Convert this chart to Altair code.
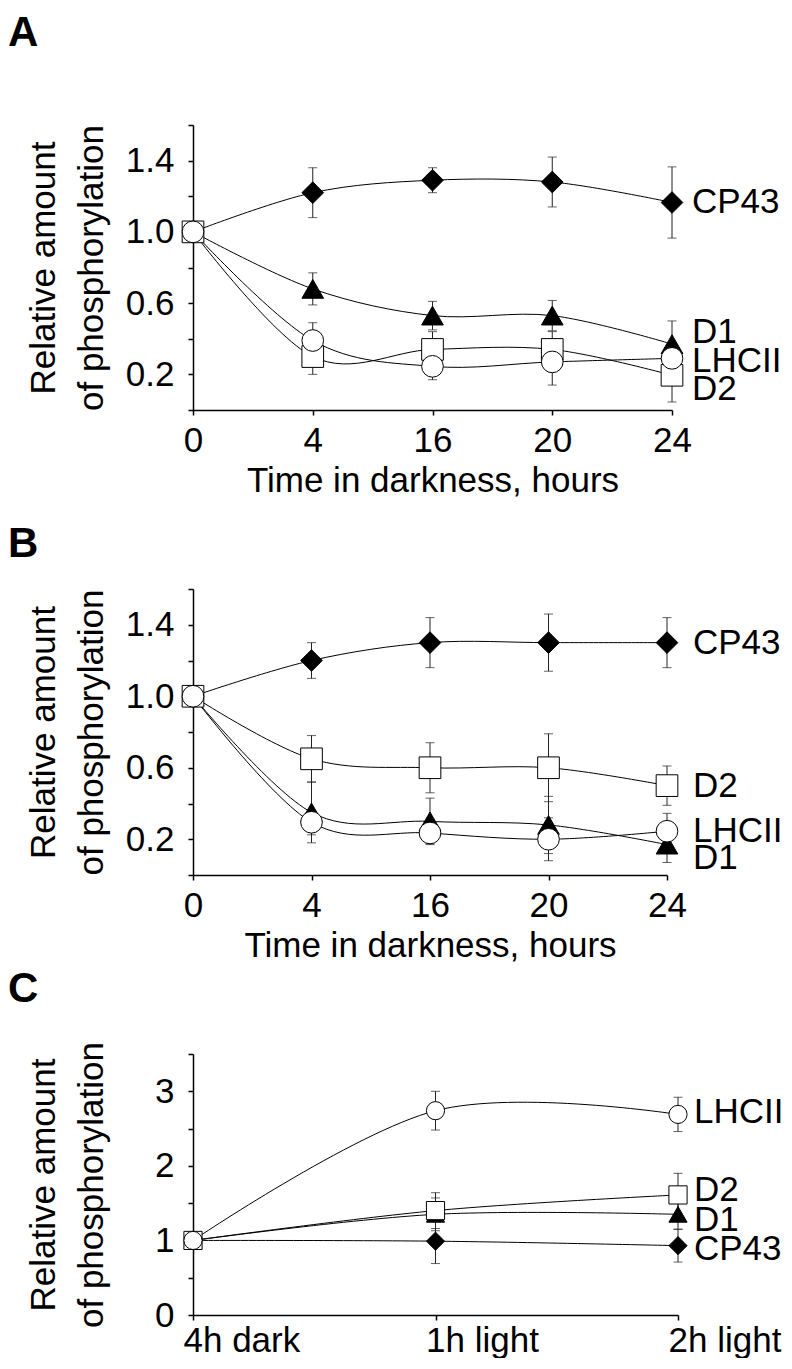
import altair as alt
import pandas as pd

SERIES = ["CP43", "D1", "D2", "LHCII"]
SHAPES = ["diamond", "triangle-up", "square", "circle"]
FILLS = ["black", "black", "white", "white"]
Y_TITLE = ["Relative amount", "of phosphorylation"]

# ---------------- Panel A ----------------
A_TIMES = ["0", "4", "16", "20", "24"]
A_CP43 = [1.0, 1.22, 1.29, 1.28, 1.165]
A_CP43_ERR = [0, 0.14, 0.07, 0.14, 0.20]
A_D1 = [1.0, 0.68, 0.53, 0.53, 0.37]
A_D1_ERR = [0, 0.09, 0.08, 0.085, 0.13]
A_D2 = [1.0, 0.30, 0.34, 0.34, 0.195]
A_D2_ERR = [0, 0.10, 0.10, 0.10, 0.15]
A_LHCII = [1.0, 0.39, 0.245, 0.27, 0.29]
A_LHCII_ERR = [0, 0.10, 0.075, 0.13, 0.05]
A_LABEL_Y = [1.165, 0.44, 0.12, 0.275]   # CP43, D1, D2, LHCII

# ---------------- Panel B ----------------
B_TIMES = ["0", "4", "16", "20", "24"]
B_CP43 = [1.0, 1.20, 1.30, 1.30, 1.30]
B_CP43_ERR = [0, 0.10, 0.14, 0.16, 0.14]
B_D1 = [1.0, 0.35, 0.30, 0.28, 0.17]
B_D1_ERR = [0, 0.17, 0.13, 0.16, 0.10]
B_D2 = [1.0, 0.65, 0.60, 0.60, 0.50]
B_D2_ERR = [0, 0.13, 0.14, 0.19, 0.11]
B_LHCII = [1.0, 0.295, 0.235, 0.20, 0.245]
B_LHCII_ERR = [0, 0.07, 0.06, 0.12, 0.10]
B_LABEL_Y = [1.30, 0.095, 0.50, 0.245]

# ---------------- Panel C ----------------
C_TIMES = ["4h dark", "1h light", "2h light"]
C_CP43 = [1.0, 0.99, 0.93]
C_CP43_ERR = [0, 0.30, 0.22]
C_D1 = [1.0, 1.35, 1.35]
C_D1_ERR = [0, 0.22, 0.20]
C_D2 = [1.0, 1.40, 1.61]
C_D2_ERR = [0, 0.24, 0.29]
C_LHCII = [1.0, 2.74, 2.69]
C_LHCII_ERR = [0, 0.26, 0.23]
C_LABEL_Y = [0.89, 1.27, 1.67, 2.72]

FONT = "Liberation Sans"
FS = 35


def build(times, vals, errs):
    rows, caps = [], []
    for s in SERIES:
        for i, t in enumerate(times):
            v, e = vals[s][i], errs[s][i]
            rows.append({"series": s, "time": t, "idx": i, "value": v,
                         "lo": v - e, "hi": v + e, "err": e})
            if e > 0:
                caps.append({"series": s, "time": t, "cap": v - e})
                caps.append({"series": s, "time": t, "cap": v + e})
    return pd.DataFrame(rows), pd.DataFrame(caps)


def panel(letter, times, vals, errs, label_y, width, height, ymax, yvalues,
          ylabel_expr, xaxis, msize, label_dx, title_offset, title_x):
    df, caps = build(times, vals, errs)
    labels = pd.DataFrame({"series": SERIES, "time": [times[-1]] * 4, "ly": label_y})

    xenc = alt.X("time:O", sort=times, scale=alt.Scale(type="point", padding=0), axis=xaxis)
    yscale = alt.Scale(domain=[0, ymax], nice=False, zero=True)
    yaxis = alt.Axis(values=yvalues, labelExpr=ylabel_expr, title=Y_TITLE,
                     titleX=title_x, titleLineHeight=48, labelPadding=14)

    def Y(field):
        return alt.Y(field, scale=yscale, axis=yaxis)

    rules = alt.Chart(df).transform_filter("datum.err > 0").mark_rule(
        color="#222222", strokeWidth=1).encode(x=xenc, y=Y("lo:Q"), y2="hi:Q")
    capm = alt.Chart(caps).mark_tick(orient="horizontal", size=9, thickness=1,
                                     color="#222222").encode(x=xenc, y=Y("cap:Q"))
    lines = alt.Chart(df).mark_line(interpolate="cardinal", color="black",
                                    strokeWidth=1).encode(
        x=xenc, y=Y("value:Q"), detail="series:N", order=alt.Order("idx:Q"))
    points = alt.Chart(df).mark_point(filled=True, opacity=1, stroke="black",
                                      strokeWidth=1, size=msize).encode(
        x=xenc, y=Y("value:Q"),
        shape=alt.Shape("series:N", scale=alt.Scale(domain=SERIES, range=SHAPES), legend=None),
        fill=alt.Fill("series:N", scale=alt.Scale(domain=SERIES, range=FILLS), legend=None))
    text = alt.Chart(labels).mark_text(align="left", baseline="middle", dx=label_dx,
                                       fontSize=FS, font=FONT, color="black").encode(
        x=xenc, y=Y("ly:Q"), text="series:N")

    return alt.layer(rules, capm, lines, points, text).properties(
        width=width, height=height,
        title=alt.TitleParams(text=letter, anchor="start", fontSize=42,
                              fontWeight="bold", font=FONT, color="black",
                              baseline="alphabetic", dx=-18, offset=title_offset))


ab_values = [0, 0.2, 0.4, 0.6, 0.8, 1.0, 1.2, 1.4, 1.6]
ab_expr = "(round(datum.value * 10) % 4 == 2) ? format(datum.value, '.1f') : ''"
c_values = [0, 0.5, 1, 1.5, 2, 2.5, 3, 3.5]
c_expr = "(round(datum.value * 2) % 2 == 0) ? format(datum.value, 'd') : ''"

time_axis = alt.Axis(title="Time in darkness, hours", labelAngle=0, labelPadding=8,
                     titlePadding=5)
c_axis = alt.Axis(title=None, labelAngle=0, labelAlign="left", labelOffset=-10,
                  labelPadding=3)

TX = -132
A = panel("A",
          A_TIMES,
          {"CP43": A_CP43, "D1": A_D1, "D2": A_D2, "LHCII": A_LHCII},
          {"CP43": A_CP43_ERR, "D1": A_D1_ERR, "D2": A_D2_ERR, "LHCII": A_LHCII_ERR},
          A_LABEL_Y, 479, 285, 1.6, ab_values, ab_expr, time_axis, 470, 20, 36, TX)
B = panel("B",
          B_TIMES,
          {"CP43": B_CP43, "D1": B_D1, "D2": B_D2, "LHCII": B_LHCII},
          {"CP43": B_CP43_ERR, "D1": B_D1_ERR, "D2": B_D2_ERR, "LHCII": B_LHCII_ERR},
          B_LABEL_Y, 474, 286, 1.6, ab_values, ab_expr, time_axis, 470, 26, -11, TX)
C = panel("C",
          C_TIMES,
          {"CP43": C_CP43, "D1": C_D1, "D2": C_D2, "LHCII": C_LHCII},
          {"CP43": C_CP43_ERR, "D1": C_D1_ERR, "D2": C_D2_ERR, "LHCII": C_LHCII_ERR},
          C_LABEL_Y, 485, 261, 3.5, c_values, c_expr, c_axis, 330, 16, -3, TX)

chart = alt.vconcat(A, B, C, spacing=179, bounds="flush").properties(
    padding={"left": 0, "top": 4, "right": 0, "bottom": 0}
).configure_view(stroke=None).configure_axis(
    grid=False, domainColor="black", domainWidth=1.5, tickColor="black",
    tickWidth=1.5, tickSize=5, labelFont=FONT, labelFontSize=FS, labelColor="black",
    titleFont=FONT, titleFontSize=FS, titleFontWeight="normal", titleColor="black"
)

chart.save("out.html", embed_options={"renderer": "svg", "actions": False})
